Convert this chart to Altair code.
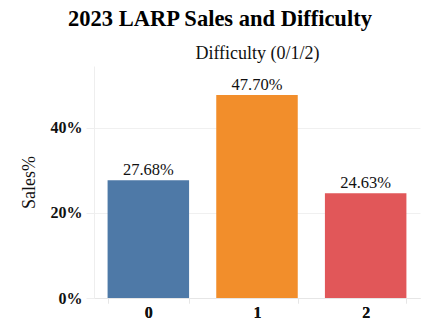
import altair as alt
import pandas as pd

difficulty = ["0", "1", "2"]
sales = [0.2768, 0.4770, 0.2463]
colors = ["#4e79a7", "#f28e2b", "#e15759"]

df = pd.DataFrame({"Difficulty": difficulty, "Sales": sales})
df["label"] = [f"{v*100:.2f}%" for v in sales]

FONT = "Liberation Serif"

x_bottom = alt.X("Difficulty:N", sort=difficulty,
                 scale=alt.Scale(paddingInner=0.25, paddingOuter=0.125),
                 axis=alt.Axis(orient="bottom", title=None, labelAngle=0,
                               labelFont=FONT, labelFontSize=16, labelFontWeight="bold",
                               labelColor="#111", labelPadding=1,
                               domainColor="#e6e6e6", tickColor="#e6e6e6",
                               tickBand="extent", tickSize=5, grid=False))
x_top = alt.X("Difficulty:N", sort=difficulty,
              axis=alt.Axis(orient="top", title="Difficulty (0/1/2)", labels=False,
                            ticks=False, domain=False, grid=False,
                            titleFont=FONT, titleFontSize=18, titleFontWeight="normal",
                            titleColor="#111", titlePadding=4))
y = alt.Y("Sales:Q", scale=alt.Scale(domain=[0, 0.545], nice=False),
          axis=alt.Axis(values=[0, 0.2, 0.4], format=".0%", title="Sales%",
                        labelFont=FONT, labelFontSize=16, labelFontWeight="bold",
                        labelColor="#111", labelPadding=4,
                        titleFont=FONT, titleFontSize=18, titleFontWeight="normal",
                        titleColor="#111", titlePadding=12,
                        domainColor="#eeeeee", tickColor="#eeeeee", tickSize=8,
                        gridColor="#f0f0f0"))

bars = alt.Chart(df).mark_bar().encode(
    x=x_bottom, y=y,
    color=alt.Color("Difficulty:N", scale=alt.Scale(domain=difficulty, range=colors), legend=None),
)
top = alt.Chart(df).mark_text(opacity=0).encode(x=x_top, y=y, text="label:N")
labels = alt.Chart(df).mark_text(baseline="bottom", dy=-2, font=FONT, fontSize=16.5,
                                 color="#111").encode(
    x=x_bottom, y=y, text="label:N")

chart = alt.layer(bars, top, labels).properties(
    width=326, height=232,
    background="white",
    title=alt.TitleParams("2023 LARP Sales and Difficulty", font=FONT, fontSize=22.5,
                          fontWeight="bold", color="#000", anchor="middle",
                          frame="bounds", offset=14),
    autosize=alt.AutoSizeParams(type="none"),
    padding={"left": 94, "top": 66, "right": 19, "bottom": 33},
).configure_view(stroke=None)

chart.save("out.html", embed_options={"renderer": "svg", "actions": False})
